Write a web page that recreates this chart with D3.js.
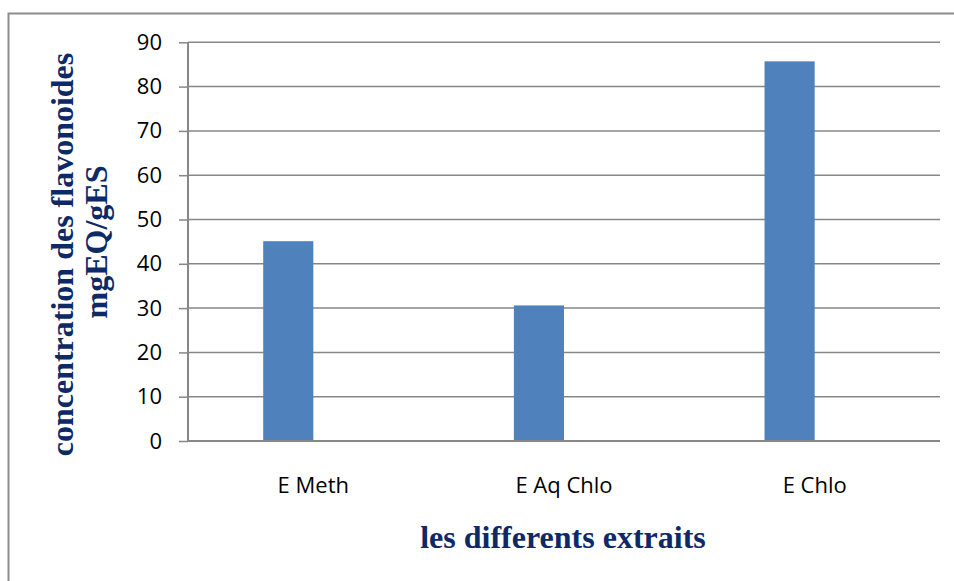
<!DOCTYPE html>
<html><head><meta charset="utf-8">
<script src="https://cdn.jsdelivr.net/npm/d3@7"></script>
<style>body{margin:0;background:#fff}svg{display:block}</style>
</head><body>
<script>
const categories = ["E Meth", "E Aq Chlo", "E Chlo"];
const values = [45.1, 30.6, 85.7];
const yTicks = [0,10,20,30,40,50,60,70,80,90];
const yTitle1 = "concentration des flavonoides";
const yTitle2 = "mgEQ/gES";
const xTitle = "les differents extraits";

(function(){
const W = 954, H = 581;
const svg = d3.select("body").append("svg").attr("width", W).attr("height", H);
svg.append("rect").attr("width", W).attr("height", H).attr("fill", "#fff");
// outer border
svg.append("rect").attr("x", 8.5).attr("y", 13.5).attr("width", 1000).attr("height", 1000)
  .attr("fill", "none").attr("stroke", "#8c8c8c").attr("stroke-width", 2);

const pLeft = 188, pRight = 940, pTop = 42.3, pBottom = 441;
const x = d3.scaleBand().domain(categories).range([pLeft, pRight]).padding(0);
const y = d3.scaleLinear().domain([0, 90]).range([pBottom, pTop]);
const gray = "#878787";
const sans = "'Open Sans', 'Noto Sans', sans-serif";

// gridlines
svg.append("g").selectAll("line").data(yTicks.filter(d => d > 0)).join("line")
  .attr("x1", pLeft).attr("x2", pRight).attr("y1", d => y(d)).attr("y2", d => y(d))
  .attr("stroke", gray).attr("stroke-width", 1.5);

// bars (second empty series -> bar occupies left half of the pair)
const bw = x.bandwidth() / 5;
svg.append("g").selectAll("rect").data(values).join("rect")
  .attr("x", (d, i) => x(categories[i]) + x.bandwidth() / 2 - bw)
  .attr("width", bw)
  .attr("y", d => y(d)).attr("height", d => pBottom - y(d))
  .attr("fill", "#4f81bd");

// y axis
const yAxis = d3.axisLeft(y).tickValues(yTicks).tickSize(9).tickPadding(17).tickFormat(d3.format("d"));
const ga = svg.append("g").attr("transform", `translate(${pLeft},0)`).call(yAxis);
ga.select(".domain").attr("stroke", gray).attr("stroke-width", 2).attr("d", `M0,${pTop}V${pBottom}`);
ga.selectAll(".tick line").attr("stroke", gray).attr("stroke-width", 1.5);
ga.selectAll(".tick text").attr("font-family", sans)
  .attr("font-size", 22).attr("fill", "#000");

// x axis baseline
svg.append("line").attr("x1", pLeft).attr("x2", pRight).attr("y1", pBottom).attr("y2", pBottom)
  .attr("stroke", gray).attr("stroke-width", 2);

// category labels
svg.append("g").selectAll("text").data(categories).join("text")
  .attr("x", d => x(d) + x.bandwidth() / 2).attr("y", 493)
  .attr("text-anchor", "middle")
  .attr("font-family", sans).attr("font-size", 22)
  .attr("fill", "#000").text(d => d);

const navy = "#0d2a66";
const serif = "'Liberation Serif', 'Times New Roman', serif";
[[yTitle1, 73, 254.5], [yTitle2, 107, 242]].forEach(([t, cx, cy]) => {
  svg.append("text").attr("transform", `translate(${cx},${cy}) rotate(-90)`)
    .attr("font-family", serif)
    .attr("font-weight", "bold").attr("font-size", 32).attr("fill", navy)
    .attr("text-anchor", "middle").text(t);
});

// x title
svg.append("text").attr("x", 563).attr("y", 548).attr("text-anchor", "middle")
  .attr("font-family", serif)
  .attr("font-weight", "bold").attr("font-size", 32).attr("fill", navy).text(xTitle);
})();
</script>
</body></html>
